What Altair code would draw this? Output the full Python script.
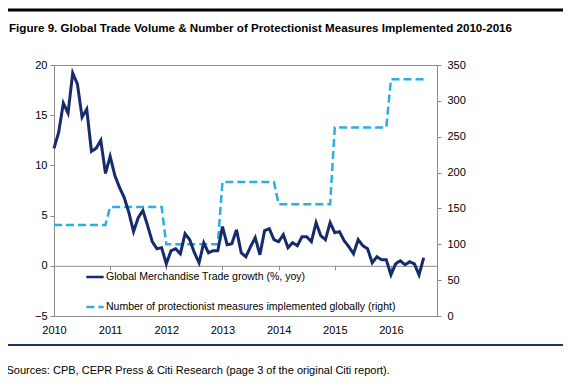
import altair as alt
import pandas as pd

title_text = "Figure 9. Global Trade Volume & Number of Protectionist Measures Implemented 2010-2016"
source_text = "Sources: CPB, CEPR Press & Citi Research (page 3 of the original Citi report)."
series_names = [
    "Global Merchandise Trade growth (%, yoy)",
    "Number of protectionist measures implemented globally (right)",
]
year_ticks = [2010, 2011, 2012, 2013, 2014, 2015, 2016]
left_ticks = [-5, 0, 5, 10, 15, 20]
right_ticks = [0, 50, 100, 150, 200, 250, 300, 350]

# monthly, Jan 2010 .. Aug 2016
trade_growth = [
    11.7, 13.3, 16.2, 15.2, 19.2, 18.1, 14.8, 15.6, 11.4, 11.7, 12.5, 9.2,
    10.9, 9.0, 7.8, 6.8, 5.3, 3.4, 4.8, 5.5, 4.0, 2.4, 1.7, 1.8,
    0.2, 1.5, 1.7, 1.2, 3.2, 2.6, 1.3, 0.3, 2.3, 1.3, 1.5, 1.5,
    3.9, 2.1, 2.2, 3.6, 1.3, 0.9, 1.9, 2.8, 1.1, 3.5, 3.7, 2.6,
    2.4, 3.1, 1.8, 2.3, 2.0, 2.9, 2.9, 2.4, 4.3, 3.0, 2.6, 4.3,
    3.3, 3.4, 2.5, 1.9, 1.2, 2.6, 2.0, 1.7, 0.3, 0.9, 0.6, 0.6,
    -0.9, 0.2, 0.5, 0.1, 0.4, 0.2, -0.9, 0.8,
]
measures = (
    [127] * 12 + [152] * 12 + [100] * 12 + [187] * 12
    + [156] * 12 + [263] * 12 + [330] * 8
)
months = [2010 + i / 12 for i in range(len(trade_growth))]

NAVY = "#152b6b"
CYAN = "#2aaee3"
GRAY = "#8c8c8c"
FONT = "Liberation Sans, Arial, sans-serif"

df_trade = pd.DataFrame({"year": months, "value": trade_growth, "series": series_names[0]})
df_meas = pd.DataFrame({"year": months, "value": measures, "series": series_names[1]})

xscale = alt.Scale(domain=[2010, 2016.82], nice=False, zero=False)

legend = alt.Legend(
    title=None, orient="none", legendX=31, legendY=202,
    symbolType="stroke", symbolSize=300, symbolStrokeWidth=2.5,
    labelFont=FONT, labelFontSize=10.5, labelColor="black", labelOffset=1,
    labelLimit=500, rowPadding=14, padding=0,
)
color = alt.Color("series:N", scale=alt.Scale(domain=series_names, range=[NAVY, CYAN]), legend=legend)
dash = alt.StrokeDash("series:N", scale=alt.Scale(domain=series_names, range=[[1, 0], [8, 4]]), legend=legend)

meas_line = alt.Chart(df_meas).mark_line(strokeWidth=2.5).encode(
    x=alt.X("year:Q", scale=xscale, axis=alt.Axis(
        orient="bottom", offset=-50.2, labels=False, ticks=True, tickSize=4,
        tickColor=GRAY, domainColor=GRAY, grid=False, title=None, values=year_ticks)),
    y=alt.Y("value:Q", scale=alt.Scale(domain=[0, 350], nice=False), axis=alt.Axis(
        orient="right", values=right_ticks, title=None, grid=False, tickSize=4,
        labelPadding=6, domainColor=GRAY, tickColor=GRAY)),
    color=color, strokeDash=dash,
)

trade_line = alt.Chart(df_trade).mark_line(strokeWidth=3).encode(
    x=alt.X("year:Q", scale=xscale, axis=alt.Axis(
        orient="bottom", values=year_ticks, format="d", ticks=False, tickSize=0,
        labelPadding=8, labelFlush=False, domainColor=GRAY, grid=False,
        title=source_text, titleX=-48, titleY=54, titleAlign="left",
        titleBaseline="middle", titleFontWeight="normal", titleFontSize=11,
        titleFont=FONT, titleColor="black")),
    y=alt.Y("value:Q", scale=alt.Scale(domain=[-5, 20], nice=False), axis=alt.Axis(
        orient="left", values=left_ticks, title=None, grid=False, tickSize=4,
        labelPadding=3, domainColor=GRAY, tickColor=GRAY)),
    color=color, strokeDash=dash,
)

deco = alt.Data(values=[{}])
top_rule = alt.Chart(deco).mark_rule(color="black", strokeWidth=3).encode(
    x=alt.value(-46), x2=alt.value(509), y=alt.value(-55))
bottom_rule = alt.Chart(deco).mark_rule(color="#1f3466", strokeWidth=2).encode(
    x=alt.value(-46), x2=alt.value(509), y=alt.value(280))

chart = alt.layer(meas_line, trade_line, top_rule, bottom_rule).resolve_scale(
    y="independent"
).resolve_axis(x="independent", y="independent").properties(
    width=383, height=251,
    autosize=alt.AutoSizeParams(type="none"),
    padding={"left": 46, "top": 57, "right": 126, "bottom": 68},
    title=alt.TitleParams(
        text=title_text, anchor="start", frame="group", dx=-45, dy=26, offset=0,
        font=FONT, fontSize=11.6, fontWeight="bold", color="black"),
).configure_view(stroke=GRAY).configure_axis(
    labelFont=FONT, labelFontSize=11, labelColor="black"
)

chart.save("out.html", embed_options={"renderer": "svg", "actions": False})
